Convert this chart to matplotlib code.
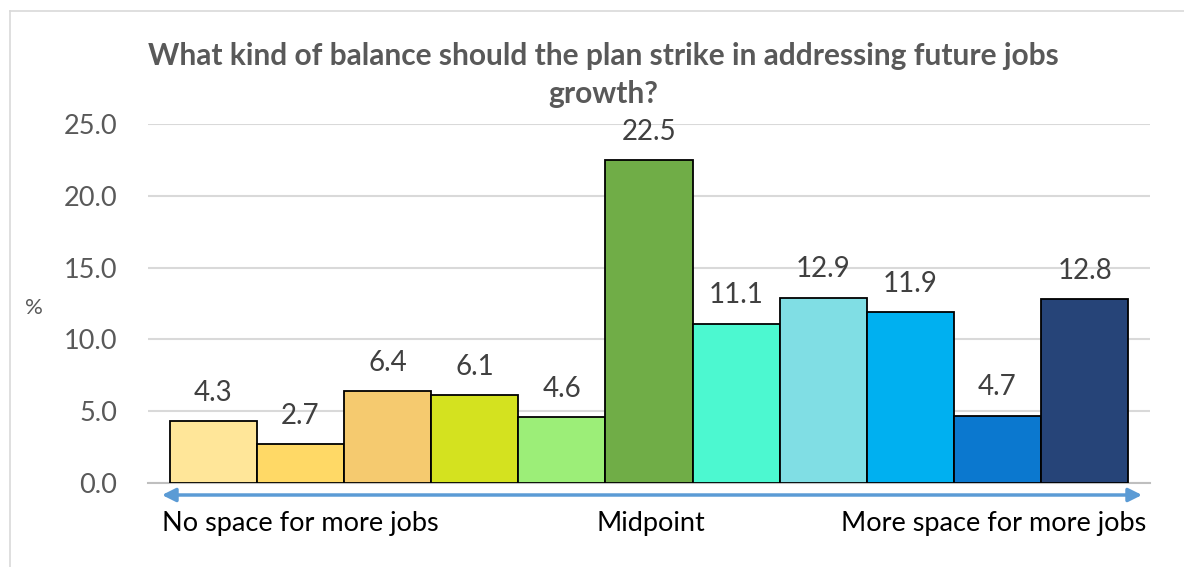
import matplotlib.pyplot as plt
from matplotlib.lines import Line2D

# data
values = [4.3, 2.7, 6.4, 6.1, 4.6, 22.5, 11.1, 12.9, 11.9, 4.7, 12.8]
colors = ["#FFE699", "#FFD966", "#F5CA6F", "#D4E21F", "#9CEE78", "#70AD47",
          "#4CF8D0", "#80DEE4", "#00B0F0", "#0B78CF", "#264478"]
yticks = [0, 5, 10, 15, 20, 25]
title = "What kind of balance should the plan strike in addressing future jobs\ngrowth?"
end_labels = ["No space for more jobs", "Midpoint", "More space for more jobs"]

plt.rcParams["font.family"] = ["Lato", "DejaVu Sans"]

fig = plt.figure(figsize=(11.84, 5.67), dpi=100)
W, H = 1184, 567
ax = fig.add_axes([148 / W, 1 - 483 / H, (1150 - 148) / W, (483 - 124) / H])

x = list(range(len(values)))
bars = ax.bar(x, values, width=1.0, color=colors, edgecolor="black", linewidth=1.3, zorder=3)
for xi, v in zip(x, values):
    ax.annotate(f"{v:.1f}", (xi, v), xytext=(0, 11), textcoords="offset points",
                ha="center", va="bottom", fontsize=20, color="#404040")

ax.set_xlim(-0.75, len(values) - 0.25)
ax.set_ylim(0, 25)
ax.set_yticks(yticks)
ax.set_yticklabels([f"{t:.1f}" for t in yticks], fontsize=19.5, color="#595959")
ax.set_xticks([])
ax.tick_params(axis="y", length=0, pad=22)
ax.grid(axis="y", color="#D9D9D9", linewidth=1.5, zorder=0)
for s in ["top", "right", "left"]:
    ax.spines[s].set_visible(False)
ax.spines["bottom"].set_color("#BFBFBF")
ax.spines["bottom"].set_linewidth(1.5)

fig.text(34 / W, 1 - 308 / H, "%", fontsize=16, color="#595959", ha="center", va="center")

fig.text(603 / W, 1 - 75 / H, title, fontsize=21.5, fontweight="bold", color="#595959",
         ha="center", va="center", linespacing=1.45)

# double-headed arrow under axis
ax.annotate("", xy=(1142 / W, 1 - 495 / H), xytext=(162 / W, 1 - 495 / H),
            xycoords="figure fraction", textcoords="figure fraction",
            arrowprops=dict(arrowstyle="<|-|>", color="#5B9BD5", lw=2.5,
                            mutation_scale=20, shrinkA=0, shrinkB=0))

fig.text(162 / W, 1 - 524 / H, end_labels[0], fontsize=19.5, color="black", ha="left", va="center")
fig.text(651 / W, 1 - 524 / H, end_labels[1], fontsize=19.5, color="black", ha="center", va="center")
fig.text(1146 / W, 1 - 524 / H, end_labels[2], fontsize=19.5, color="black", ha="right", va="center")

# chart border
fig.add_artist(Line2D([10 / W, 10 / W], [0, 1 - 11 / H], transform=fig.transFigure, color="#D9D9D9", lw=1.2))
fig.add_artist(Line2D([10 / W, 1], [1 - 11 / H, 1 - 11 / H], transform=fig.transFigure, color="#D9D9D9", lw=1.2))

fig.savefig("out.png", dpi=100)
